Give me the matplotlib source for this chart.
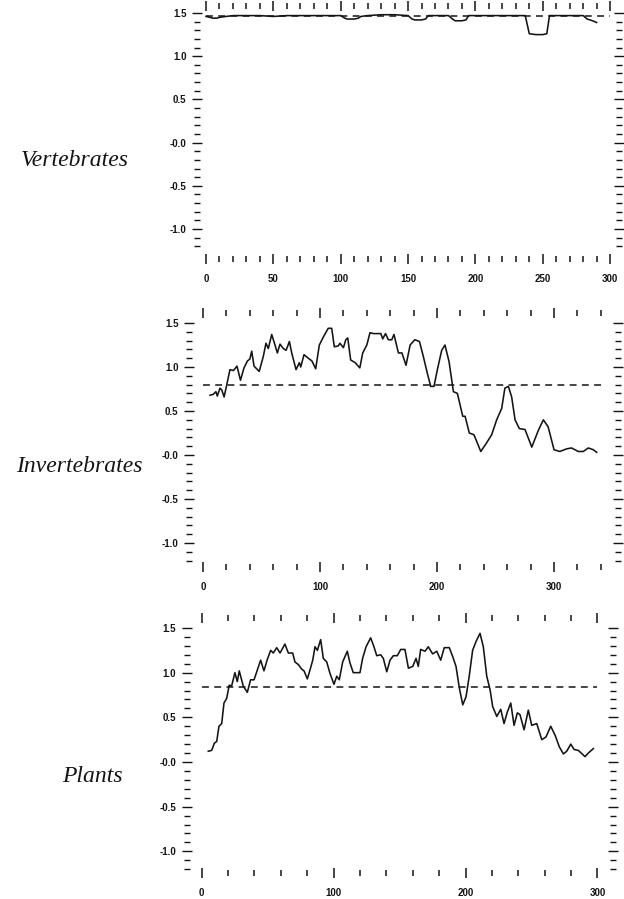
import matplotlib
matplotlib.use("Agg")
import matplotlib.pyplot as plt
from matplotlib.ticker import FixedLocator, FixedFormatter
import numpy as np

# ---------------- data ----------------
panel_names = ["Vertebrates", "Invertebrates", "Plants"]

vert_x = [0, 3, 5, 8, 10, 15, 20, 30, 40, 50, 60, 70, 80, 90, 100, 103, 105, 110, 113, 115,
          120, 130, 140, 150, 153, 155, 160, 163, 165, 170, 180, 183, 185, 190, 193, 195,
          200, 210, 220, 230, 237, 240, 245, 250, 253, 255, 260, 270, 280, 283, 287, 290]
vert_y = [1.46, 1.45, 1.44, 1.44, 1.45, 1.46, 1.47, 1.47, 1.47, 1.46, 1.47, 1.47, 1.47, 1.47, 1.47, 1.44, 1.43, 1.43, 1.44, 1.46,
          1.47, 1.48, 1.48, 1.47, 1.43, 1.42, 1.42, 1.43, 1.47, 1.47, 1.47, 1.43, 1.41, 1.41, 1.42, 1.47,
          1.47, 1.47, 1.47, 1.47, 1.47, 1.26, 1.25, 1.25, 1.26, 1.47, 1.47, 1.47, 1.47, 1.43, 1.41, 1.39]
vert_mean = 1.47

inv_x = [6, 8.8, 11, 12.2, 14.5, 16, 18, 20, 23, 26, 29, 32, 35, 38, 40, 41.6, 43.6, 48, 51.5, 53.8,
         55.8, 58.7, 61.5, 63.5, 65.8, 68.6, 71, 73.8, 75.8, 79.5, 82.3, 83.5, 86.3, 90, 93, 96.3,
         99.4, 102.8, 107, 110, 112.2, 115.6, 117, 120, 122, 123.7, 126.2, 130, 134, 136.5, 140,
         142.7, 145.6, 148.4, 152, 153.6, 156, 158.4, 161.3, 163.2, 167, 170, 173.5, 177, 181, 185,
         188.3, 191.7, 194.6, 197.4, 200.3, 204, 206.8, 210.3, 214, 217.4, 222, 224, 227.6, 231.6,
         237.4, 242, 246.7, 251, 255.3, 258, 261, 263.8, 266.7, 270.4, 275.2, 281, 286.6, 290.9,
         295, 300, 305, 310.8, 315, 320.8, 325, 329.3, 333.6, 336.5]
inv_y = [0.68, 0.69, 0.72, 0.67, 0.76, 0.74, 0.66, 0.78, 0.97, 0.96, 1.01, 0.85, 0.99, 1.07, 1.09, 1.18, 1.01, 0.95, 1.12, 1.27,
         1.21, 1.37, 1.25, 1.16, 1.26, 1.21, 1.19, 1.29, 1.16, 0.97, 1.05, 1.00, 1.14, 1.10, 1.07, 0.98,
         1.25, 1.34, 1.44, 1.44, 1.23, 1.24, 1.27, 1.22, 1.31, 1.33, 1.08, 1.05, 0.99, 1.16, 1.25,
         1.39, 1.38, 1.38, 1.38, 1.32, 1.38, 1.31, 1.31, 1.37, 1.16, 1.16, 1.02, 1.25, 1.31, 1.29,
         1.12, 0.93, 0.78, 0.78, 0.97, 1.19, 1.25, 1.06, 0.72, 0.70, 0.44, 0.44, 0.25, 0.23,
         0.04, 0.13, 0.23, 0.40, 0.53, 0.76, 0.78, 0.66, 0.40, 0.30, 0.29, 0.09, 0.28, 0.40,
         0.32, 0.06, 0.04, 0.07, 0.08, 0.04, 0.04, 0.08, 0.06, 0.03]
inv_mean = 0.79

plant_x = [5, 7.6, 9.6, 11.4, 13.1, 15.2, 16.9, 18.9, 20.9, 22.7, 25.2, 27, 28.5, 31.5, 34.6, 37.1, 39.7,
           42.2, 44.7, 47.2, 49.8, 52.3, 54.3, 56.9, 59.4, 63.1, 65.7, 69, 70.7, 73.3, 75.8, 77.6, 80.1,
           82.1, 84.2, 85.9, 87.7, 90.2, 92.2, 94.8, 97.3, 100.3, 102.4, 104.3, 106.9, 110.4, 112.4,
           114.9, 120, 122, 124.6, 128.1, 130.6, 132.7, 135.7, 137.7, 140.3, 142.8, 145.3, 148.3, 150.9,
           154.1, 156.7, 160, 162.5, 164.2, 166, 169.3, 171.8, 175.1, 178.2, 181.2, 183.9, 187.7, 190.3,
           192.8, 195.3, 197.9, 200.4, 202.9, 205.4, 208, 211, 213.5, 216.1, 218.6, 220.6, 223.7, 226.7,
           229.2, 231.7, 234.3, 236.8, 239.3, 241.3, 244.4, 247.6, 250.2, 254, 257.8, 261, 264.6, 267.9,
           271.1, 274.2, 276.7, 279.8, 282.3, 285.5, 290.6, 293.1, 296.9]
plant_y = [0.12, 0.13, 0.21, 0.23, 0.40, 0.43, 0.66, 0.71, 0.86, 0.85, 1.00, 0.90, 1.02, 0.85, 0.78, 0.92, 0.92,
           1.03, 1.14, 1.02, 1.15, 1.25, 1.22, 1.28, 1.22, 1.32, 1.22, 1.22, 1.12, 1.09, 1.04, 1.02, 0.93,
           1.03, 1.14, 1.29, 1.25, 1.37, 1.16, 1.12, 0.99, 0.87, 0.96, 0.92, 1.12, 1.24, 1.11,
           1.00, 1.00, 1.16, 1.29, 1.39, 1.29, 1.19, 1.20, 1.16, 1.01, 1.14, 1.19, 1.19, 1.26,
           1.26, 1.05, 1.07, 1.16, 1.07, 1.26, 1.24, 1.29, 1.21, 1.24, 1.14, 1.28, 1.28, 1.18,
           1.07, 0.83, 0.64, 0.73, 0.97, 1.25, 1.35, 1.44, 1.29, 0.96, 0.81, 0.62, 0.51, 0.59,
           0.43, 0.56, 0.66, 0.41, 0.55, 0.53, 0.36, 0.58, 0.41, 0.43, 0.25, 0.28, 0.40, 0.30,
           0.17, 0.09, 0.12, 0.20, 0.14, 0.13, 0.06, 0.10, 0.15]
plant_mean = 0.84

y_major = [-1.0, -0.5, 0.0, 0.5, 1.0, 1.5]
y_labels = ["-1.0", "-0.5", "-0.0", "0.5", "1.0", "1.5"]
y_minor = [round(v, 1) for v in np.arange(-1.2, 1.51, 0.1)]

vert_xmajor = [0, 50, 100, 150, 200, 250, 300]
vert_xminor = list(range(0, 301, 10))
inv_xmajor = [0, 100, 200, 300]
inv_xminor = list(range(0, 341, 20))
plant_xmajor = [0, 100, 200, 300]
plant_xminor = list(range(0, 301, 20))

# ---------------- layout ----------------
W, H = 624, 899
fig = plt.figure(figsize=(W / 100, H / 100), dpi=100)


def px_axes(l, r, t, b):
    return fig.add_axes([l / W, 1 - b / H, (r - l) / W, (b - t) / H])


panels = [
    dict(box=(197, 619, 6, 259), xlim=(-6.7, 306.6), ylim=(-1.347, 1.581),
         x=vert_x, y=vert_y, mean=vert_mean, mean_span=(0, 300),
         xmaj=vert_xmajor, xmin=vert_xminor, label_pos=(75, 160)),
    dict(box=(189, 618, 313, 567), xlim=(-12, 354.7), ylim=(-1.273, 1.614),
         x=inv_x, y=inv_y, mean=inv_mean, mean_span=(0, 340),
         xmaj=inv_xmajor, xmin=inv_xminor, label_pos=(79, 467)),
    dict(box=(186.5, 613, 618, 873), xlim=(-11.5, 311.8), ylim=(-1.243, 1.612),
         x=plant_x, y=plant_y, mean=plant_mean, mean_span=(0, 300),
         xmaj=plant_xmajor, xmin=plant_xminor, label_pos=(92, 776)),
]

ink = "#141414"
tick_font = dict(family="Liberation Sans", weight="bold", size=7)

for name, p in zip(panel_names, panels):
    ax = px_axes(*p["box"])
    ax.plot(p["x"], p["y"], color=ink, lw=1.15, solid_joinstyle="round")
    ax.plot(p["mean_span"], [p["mean"], p["mean"]], color=ink, lw=1.1,
            linestyle=(0, (4.5, 3.5)))
    ax.set_xlim(*p["xlim"])
    ax.set_ylim(*p["ylim"])
    for s in ax.spines.values():
        s.set_visible(False)
    ax.xaxis.set_major_locator(FixedLocator(p["xmaj"]))
    ax.xaxis.set_minor_locator(FixedLocator([v for v in p["xmin"] if v not in p["xmaj"]]))
    ax.yaxis.set_major_locator(FixedLocator(y_major))
    ax.yaxis.set_major_formatter(FixedFormatter(y_labels))
    ax.yaxis.set_minor_locator(FixedLocator([v for v in y_minor if v not in y_major]))
    ax.tick_params(axis="both", which="both", direction="inout", color=ink,
                   top=True, right=True, bottom=True, left=True)
    ax.tick_params(axis="x", which="major", length=7, width=1.1, pad=7)
    ax.tick_params(axis="x", which="minor", length=4, width=1.1)
    ax.tick_params(axis="y", which="major", length=7, width=1.0, pad=4)
    ax.tick_params(axis="y", which="minor", length=4, width=1.0)
    for lab in ax.get_xticklabels() + ax.get_yticklabels():
        lab.set_fontfamily(tick_font["family"])
        lab.set_fontweight(tick_font["weight"])
        lab.set_fontsize(tick_font["size"])
        lab.set_color(ink)
    lx, ly = p["label_pos"]
    fig.text(lx / W, 1 - ly / H, name, ha="center", va="center",
             family="Liberation Serif", style="italic", fontsize=17, color=ink)

fig.savefig("out.png", dpi=100, facecolor="white")
